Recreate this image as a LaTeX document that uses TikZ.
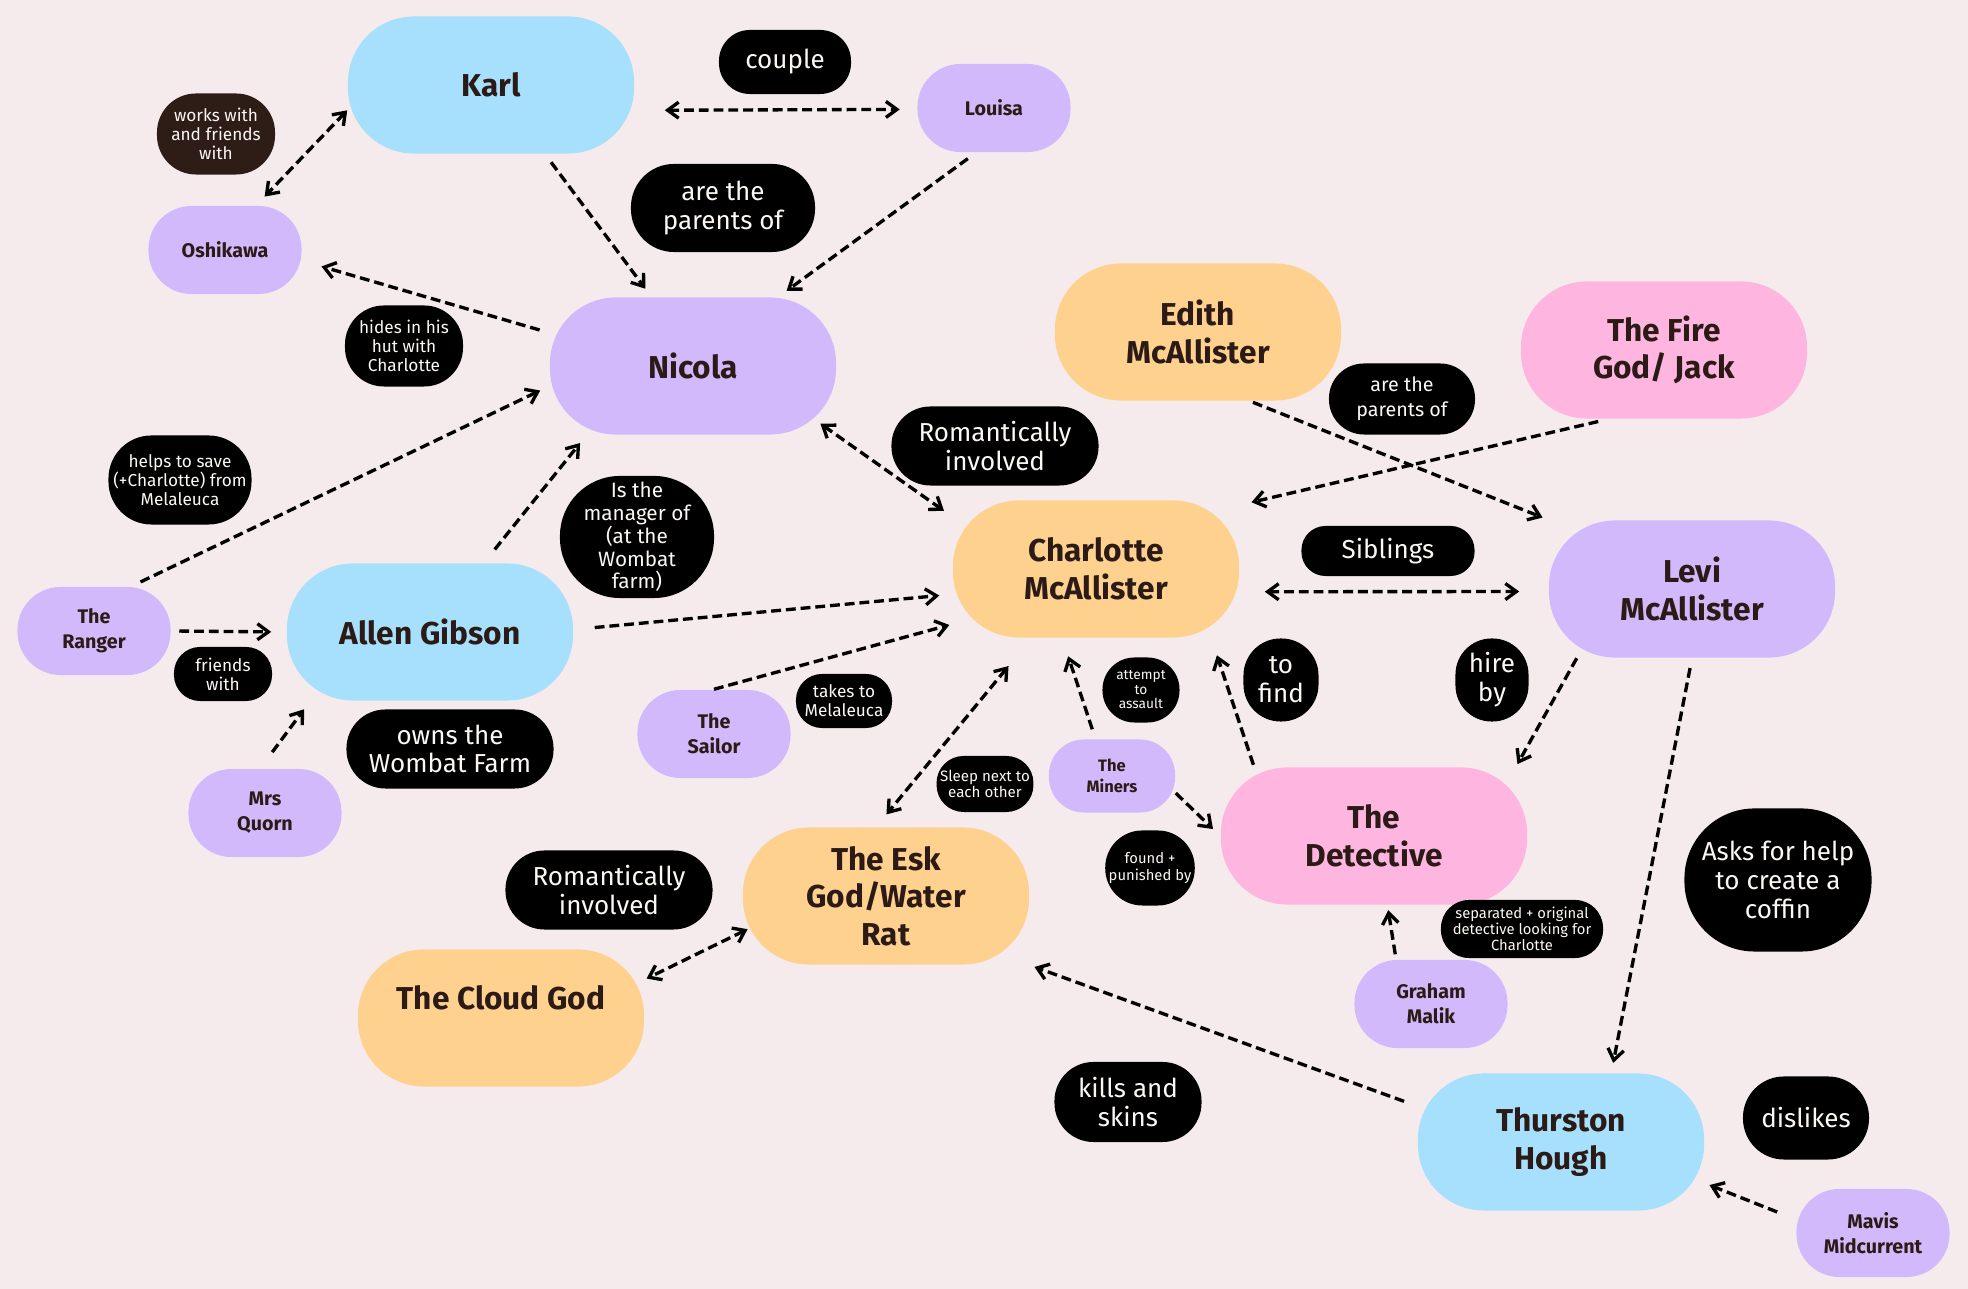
\documentclass[tikz,border=0pt]{standalone}
\usepackage{fontspec}
\setmainfont{Fira Sans}
\usepackage{tikz}
\usetikzlibrary{arrows.meta}
\definecolor{paper}{HTML}{F5EBED}
\definecolor{kblue}{HTML}{A7E0FC}
\definecolor{kpurple}{HTML}{D2B9FC}
\definecolor{korange}{HTML}{FED18F}
\definecolor{kpink}{HTML}{FEB6E0}
\definecolor{ink}{HTML}{2B1A15}
\definecolor{chalk}{HTML}{FBF7F3}
\definecolor{bark}{HTML}{2E1C17}
\begin{document}
\begin{tikzpicture}[x=0.01cm,y=-0.01cm,
 personbox/.style={rectangle,text=ink,align=center,inner sep=2pt},
 bigbox/.style={personbox,rounded corners=0.66cm,minimum width=2.86cm,minimum height=1.37cm,font=\fontsize{9}{10.7}\selectfont\bfseries},
 smallbox/.style={personbox,rounded corners=0.43cm,minimum width=1.53cm,minimum height=0.88cm,font=\fontsize{5.6}{7.1}\selectfont\bfseries},
 tagbox/.style={rectangle,fill=black,text=chalk,align=center,inner sep=1pt,font=\fontsize{7.4}{8.2}\selectfont},
 tinytag/.style={tagbox,font=\fontsize{4.9}{5.4}\selectfont},
 pill/.style n args={3}{minimum width=#1cm,minimum height=#2cm,rounded corners=#3cm},
 link/.style={draw=black,line width=0.95pt,dash pattern=on 2.8pt off 1.4pt,shorten >=1mm,shorten <=1mm},
 arr/.style={link,-{Straight Barb[length=1.1mm,width=1.6mm]}},
 darr/.style={link,{Straight Barb[length=1.1mm,width=1.6mm]}-{Straight Barb[length=1.1mm,width=1.6mm]}}]
\fill[paper] (0,0) rectangle (1968,1289);
\useasboundingbox (0,0) rectangle (1968,1289);
\node[bigbox,fill=kblue] (karl) at (491,85) {Karl};
\node[smallbox,fill=kpurple] (louisa) at (994,108) {Louisa};
\node[smallbox,fill=kpurple] (oshikawa) at (225,250) {Oshikawa};
\node[bigbox,fill=kpurple] (nicola) at (693,366) {Nicola};
\node[bigbox,fill=korange] (edith) at (1198,332) {Edith\\McAllister};
\node[bigbox,fill=kpink] (firegod) at (1664,350) {The Fire\\God/ Jack};
\node[bigbox,fill=korange] (charlotte) at (1096,569) {Charlotte\\McAllister};
\node[bigbox,fill=kpurple] (levi) at (1692,589) {Levi\\McAllister};
\node[smallbox,fill=kpurple] (ranger) at (94,631) {The\\Ranger};
\node[bigbox,fill=kblue] (allen) at (430,632) {Allen Gibson};
\node[smallbox,fill=kpurple] (sailor) at (714,734) {The\\Sailor};
\node[smallbox,fill=kpurple] (quorn) at (265,813) {Mrs\\Quorn};
\node[smallbox,fill=kpurple,minimum width=1.26cm,minimum height=0.73cm,rounded corners=0.35cm,font=\fontsize{4.7}{6}\selectfont\bfseries] (miners) at (1112,776) {The\\Miners};
\node[bigbox,fill=kpink,minimum width=3.06cm] (detective) at (1374,836) {The\\Detective};
\node[bigbox,fill=korange] (esk) at (886,896) {The Esk\\God/Water\\Rat};
\node[bigbox,fill=korange,text depth=0.4cm] (cloud) at (501,1018) {The Cloud God};
\node[smallbox,fill=kpurple] (graham) at (1431,1004) {Graham\\Malik};
\node[bigbox,fill=kblue] (thurston) at (1561,1142) {Thurston\\Hough};
\node[smallbox,fill=kpurple] (mavis) at (1873,1233) {Mavis\\Midcurrent};
\node[tinytag,fill=bark,pill={1.18}{0.81}{0.39}] (works) at (216,134) {works with\\and friends\\with};
\node[tagbox,pill={1.32}{0.64}{0.31}] (couple) at (785,62) {couple};
\node[tagbox,pill={1.84}{0.88}{0.43}] (parentsa) at (723,208) {are the\\parents of};
\node[tinytag,pill={1.18}{0.81}{0.39}] (hides) at (404,346) {hides in his\\hut with\\Charlotte};
\node[tinytag,pill={1.43}{0.89}{0.43}] (helps) at (180,480) {helps to save\\(+Charlotte) from\\Melaleuca};
\node[tagbox,pill={1.54}{1.22}{0.6},font=\fontsize{5.9}{6.5}\selectfont] (manager) at (637,537) {Is the\\manager of\\(at the\\Wombat\\farm)};
\node[tagbox,pill={2.07}{0.79}{0.39}] (romancea) at (995,446) {Romantically\\involved};
\node[tagbox,pill={1.46}{0.71}{0.35},font=\fontsize{5.6}{7.1}\selectfont] (parentsb) at (1402,399) {are the\\parents of};
\node[tagbox,pill={1.73}{0.50}{0.24}] (siblings) at (1388,551) {Siblings};
\node[tinytag,pill={0.98}{0.54}{0.26}] (friends) at (223,674) {friends\\with};
\node[tagbox,pill={2.07}{0.79}{0.39}] (owns) at (450,749) {owns the\\Wombat Farm};
\node[tinytag,pill={0.96}{0.54}{0.26}] (takes) at (844,701) {takes to\\Melaleuca};
\node[tagbox,pill={0.77}{0.65}{0.32},font=\fontsize{3.9}{4.1}\selectfont] (attempt) at (1141,690) {attempt\\to\\assault};
\node[tagbox,pill={0.75}{0.83}{0.37}] (tofind) at (1281,680) {to\\find};
\node[tagbox,pill={0.73}{0.83}{0.36}] (hire) at (1492,680) {hire\\by};
\node[tagbox,pill={0.91}{0.56}{0.27},font=\fontsize{4.3}{4.6}\selectfont] (sleep) at (985,784) {Sleep next to\\each other};
\node[tagbox,pill={0.87}{0.75}{0.37},font=\fontsize{4.2}{4.6}\selectfont] (found) at (1150,868) {found +\\punished by};
\node[tagbox,pill={2.07}{0.79}{0.39}] (romanceb) at (609,890) {Romantically\\involved};
\node[tagbox,pill={1.62}{0.58}{0.28},font=\fontsize{4.2}{4.6}\selectfont] (separated) at (1522,929) {separated + original\\detective looking for\\Charlotte};
\node[tagbox,pill={1.87}{1.43}{0.7}] (asks) at (1778,880) {Asks for help\\to create a\\coffin};
\node[tagbox,pill={1.47}{0.80}{0.39}] (kills) at (1128,1102) {kills and\\skins};
\node[tagbox,pill={1.26}{0.83}{0.41}] (dislikes) at (1806,1118) {dislikes};
\draw[darr,shorten <=0mm,shorten >=1.2mm] (karl.190) -- (oshikawa.55);
\draw[darr,shorten <=3mm,shorten >=1.7mm] (karl.-10) -- (louisa.181);
\draw[arr] (karl.-52) -- (nicola.121);
\draw[arr] (louisa.248) -- (nicola.39);
\draw[arr,shorten >=2mm] (nicola.167) -- (oshikawa.-8);
\draw[arr] (ranger.50) -- (nicola.188);
\draw[arr,shorten <=1.7mm] (allen.52) -- (nicola.213);
\draw[darr,shorten <=-2mm] (nicola.south east) -- (charlotte.160);
\draw[arr,shorten >=1.2mm] (firegod.231) -- (charlotte.24);
\draw[arr,shorten <=0.3mm,shorten >=0.6mm] (edith.-53) -- (levi.north west);
\draw[darr,shorten <=2.5mm,shorten >=2.9mm] (charlotte.-9) -- (levi.181);
\draw[arr,shorten <=0.8mm,shorten >=1.5mm] (ranger.east) -- (allen.west);
\draw[arr,shorten <=2.1mm,shorten >=1.3mm] (allen.1) -- (charlotte.190);
\draw[arr,shorten <=0mm,shorten >=0.3mm] (sailor.north) -- (charlotte.201);
\draw[arr,shorten <=2mm] (quorn.96) -- (allen.210);
\draw[darr,shorten <=3.6mm,shorten >=1.6mm] (charlotte.227) -- (esk.98);
\draw[arr,shorten >=1.9mm] (miners.114) -- (charlotte.244);
\draw[arr,shorten <=0.2mm,shorten >=1.8mm] (detective.150) -- (charlotte.-31);
\draw[arr,shorten <=0mm] (miners.-15) -- (detective.west);
\draw[arr,shorten <=0mm,shorten >=0.3mm] (levi.211) -- (detective.26);
\draw[arr] (levi.south) -- (thurston.54);
\draw[arr,shorten <=0.5mm,shorten >=0.5mm] (graham.128) -- (detective.-79);
\draw[darr,shorten <=-0.6mm,shorten >=0.2mm] (esk.194) -- (cloud.15);
\draw[arr,shorten <=1.4mm,shorten >=0.5mm] (thurston.166) -- (esk.south east);
\draw[arr,shorten <=2mm,shorten >=0.5mm] (mavis.170) -- (thurston.-16);
\end{tikzpicture}
\end{document}
